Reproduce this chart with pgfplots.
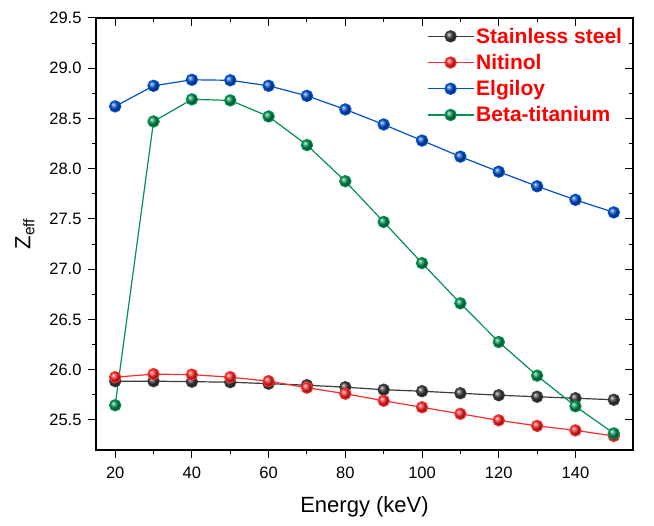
\documentclass[border=0pt]{standalone}
\usepackage{fontspec}
\setmainfont{Liberation Sans}
\usepackage{pgfplots}
\pgfplotsset{compat=1.18}
\definecolor{ssgrey}{HTML}{3C3C3C}
\definecolor{niti}{HTML}{FF2A2A}
\definecolor{elgi}{HTML}{0050D0}
\definecolor{beta}{HTML}{00914F}

\pgfplotsset{
  base/.style={
    scale only axis, width=537pt, height=432pt,
    xmin=15, xmax=155, ymin=25.2, ymax=29.5,
    xtick={20,40,60,80,100,120,140},
    ytick={25.5,26,26.5,27,27.5,28,28.5,29,29.5},
    minor tick num=1,
    major tick length=8pt, minor tick length=4pt,
    tick style={black, line width=1pt},
    axis line style={black, line width=1.3pt},
  },
  zplot/.style={line width=1.2pt, mark=ball, mark size=5.6pt, mark options={ball color=#1}, color=#1},
}

\begin{document}
\begin{tikzpicture}
\useasboundingbox (-96pt,-76pt) rectangle (558pt,450pt);
\begin{axis}[base,
  tick align=outside, xtick pos=left, ytick pos=left,
  /pgf/number format/assume math mode=true,
  tick label style={font=\fontsize{16.5}{19}\selectfont},
  xticklabel style={yshift=-5pt},
  yticklabel style={xshift=-3pt, /pgf/number format/.cd, fixed, fixed zerofill, precision=1},
  xlabel={Energy (keV)}, ylabel={Z\textsubscript{eff}},
  every axis x label/.style={at={(axis description cs:0.5,0)}, anchor=base, yshift=-63pt, font=\fontsize{22}{26}\selectfont},
  every axis y label/.style={at={(axis description cs:0,0.5)}, rotate=90, anchor=center, yshift=71pt, font=\fontsize{22}{26}\selectfont},
  legend style={draw=none, fill=none, at={(0.616,0.982)}, anchor=north west,
    font=\fontsize{21}{25}\selectfont\bfseries, text=red, row sep=5.5pt, inner sep=0pt},
  legend cell align=left,
  legend image code/.code={\draw[mark repeat=2,mark phase=2,#1] plot coordinates {(0pt,0pt) (23pt,0pt) (46pt,0pt)};},
]
\addplot[zplot=ssgrey] coordinates {
  (20,25.885) (30,25.885) (40,25.88) (50,25.875) (60,25.86) (70,25.845) (80,25.825)
  (90,25.80) (100,25.785) (110,25.765) (120,25.745) (130,25.73) (140,25.715) (150,25.70)
};
\addlegendentry{Stainless steel}
\addplot[zplot=niti] coordinates {
  (20,25.925) (30,25.955) (40,25.95) (50,25.925) (60,25.885) (70,25.82) (80,25.76)
  (90,25.69) (100,25.625) (110,25.56) (120,25.495) (130,25.44) (140,25.395) (150,25.34)
};
\addlegendentry{Nitinol}
\addplot[zplot=elgi] coordinates {
  (20,28.62) (30,28.825) (40,28.885) (50,28.88) (60,28.825) (70,28.725) (80,28.59)
  (90,28.44) (100,28.28) (110,28.12) (120,27.97) (130,27.825) (140,27.69) (150,27.565)
};
\addlegendentry{Elgiloy}
\addplot[zplot=beta] coordinates {
  (20,25.645) (30,28.47) (40,28.69) (50,28.68) (60,28.52) (70,28.235) (80,27.875)
  (90,27.47) (100,27.06) (110,26.66) (120,26.275) (130,25.94) (140,25.635) (150,25.365)
};
\addlegendentry{Beta-titanium}
\end{axis}
\begin{axis}[base,
  tick align=inside, xtick pos=right, ytick pos=right,
  xticklabels={}, yticklabels={},
]
\end{axis}
\end{tikzpicture}
\end{document}
